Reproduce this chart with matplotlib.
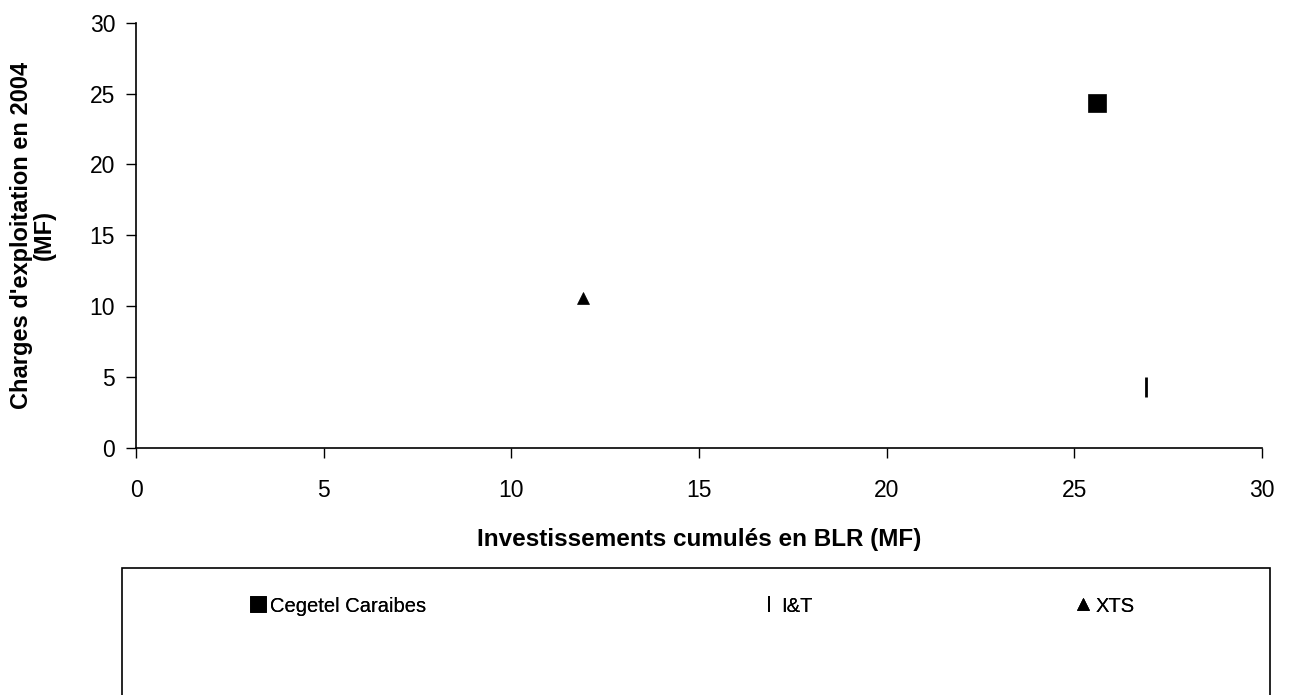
import matplotlib
matplotlib.use("Agg")
import matplotlib.pyplot as plt
from matplotlib.patches import Rectangle
from matplotlib.lines import Line2D

plt.rcParams["font.family"] = ["Liberation Sans", "DejaVu Sans"]

# data (MF)
names = ["Cegetel Caraibes", "I&T", "XTS"]
invest = [25.6, 26.9, 11.9]
charges = [24.3, 4.3, 10.6]
markers = ["s", "|", "^"]
sizes = [12.5, 15, 9]
legend_x = [0.195, 0.59, 0.833]   # figure fraction of each legend entry

fig = plt.figure(figsize=(12.93, 6.95), dpi=100)
ax = fig.add_axes([0.1052, 0.3554, 0.8708, 0.612])

handles = []
for x, y, m, s in zip(invest, charges, markers, sizes):
    ln, = ax.plot([x], [y], linestyle="none", marker=m, markersize=s,
                  color="black", markeredgewidth=2 if m == "|" else 0.5)
    handles.append(ln)

ax.set_xlim(0, 30)
ax.set_ylim(0, 30)
ax.set_xticks(range(0, 31, 5))
ax.set_yticks(range(0, 31, 5))
ax.tick_params(direction="out", length=7, width=1, labelsize=16.5)
ax.tick_params(axis="x", pad=15)
ax.tick_params(axis="y", pad=8)
for sp in ["top", "right"]:
    ax.spines[sp].set_visible(False)
for sp in ["left", "bottom"]:
    ax.spines[sp].set_linewidth(1.2)

ax.set_xlabel("Investissements cumulés en BLR (MF)", fontsize=17.5, fontweight="bold",
              labelpad=19)
ax.set_ylabel("Charges d'exploitation en 2004\n(MF)", fontsize=17, fontweight="bold",
              labelpad=24, linespacing=1.0)

# legend box, open at the bottom edge like the source
fig.patches.append(Rectangle((0.0944, -0.01), 0.888, 0.193, transform=fig.transFigure,
                             fill=False, edgecolor="black", linewidth=1.2))

leg_sizes = [11, 12, 8]
for h, name, lx, m, s in zip(handles, names, legend_x, markers, leg_sizes):
    proxy = Line2D([], [], linestyle="none", marker=m, markersize=s, color="black",
                   markeredgewidth=1.3 if m == "|" else 0.5)
    lg = fig.legend([proxy], [name], loc="center left", bbox_to_anchor=(lx, 0.128),
                    frameon=False, fontsize=14.5, handlelength=0.6, handletextpad=0.3,
                    borderpad=0, borderaxespad=0)
    fig.add_artist(lg)

fig.savefig("out.png", dpi=100)
